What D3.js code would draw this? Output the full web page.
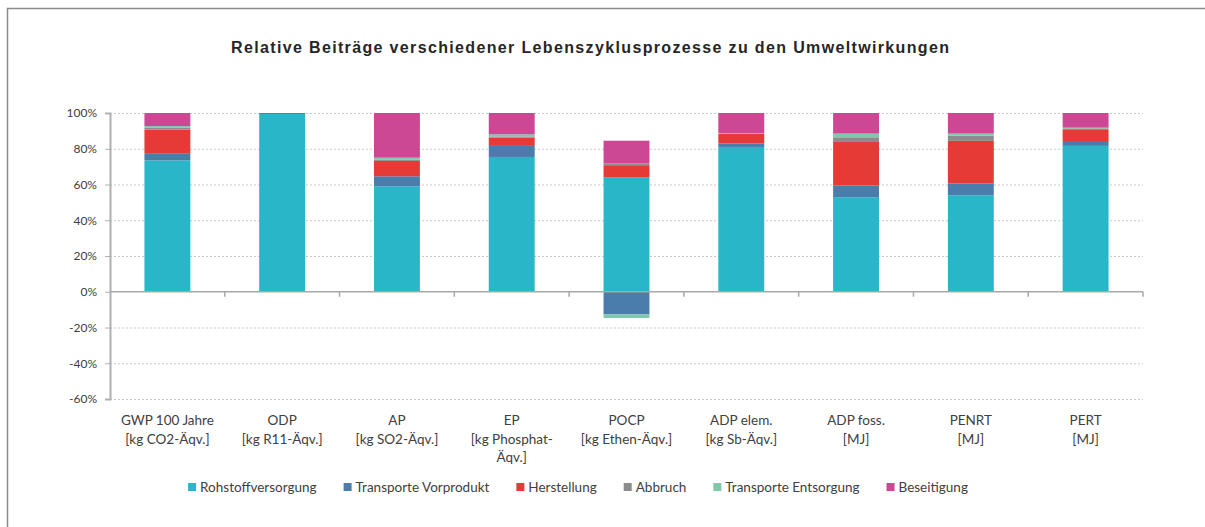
<!DOCTYPE html>
<html>
<head>
<meta charset="utf-8">
<script src="https://cdn.jsdelivr.net/npm/d3@7"></script>
<style>
  html, body { margin: 0; padding: 0; background: #fff; }
  svg { display: block; }
</style>
</head>
<body>
<svg id="chart" width="1205" height="527"></svg>
<script>
// ---- data ----
const categories = ["GWP", "ODP", "AP", "EP", "POCP", "ADP elem", "ADP foss", "PENRT", "PERT"];
const categoryLabels = [
  ["GWP 100 Jahre", "[kg CO2-Äqv.]"],
  ["ODP", "[kg R11-Äqv.]"],
  ["AP", "[kg SO2-Äqv.]"],
  ["EP", "[kg Phosphat-", "Äqv.]"],
  ["POCP", "[kg Ethen-Äqv.]"],
  ["ADP elem.", "[kg Sb-Äqv.]"],
  ["ADP foss.", "[MJ]"],
  ["PENRT", "[MJ]"],
  ["PERT", "[MJ]"]
];
const seriesNames = ["Rohstoffversorgung", "Transporte Vorprodukt", "Herstellung", "Abbruch", "Transporte Entsorgung", "Beseitigung"];
const rohstoffversorgung   = [73.5, 99.5, 59.0, 75.4, 64.1, 81.0, 52.9, 54.0, 81.6];
const transporteVorprodukt = [3.7, 0, 5.6, 6.2, -12.7, 1.9, 6.5, 6.5, 2.2];
const herstellung          = [13.5, 0.5, 8.6, 4.6, 6.7, 5.4, 24.4, 23.9, 7.1];
const abbruch              = [1.2, 0, 0.6, 0.7, 1.0, 0.3, 2.6, 2.9, 0.5];
const transporteEntsorgung = [0.8, 0, 1.2, 1.2, -2.0, 0.2, 2.1, 1.2, 0.4];
const beseitigung          = [7.3, 0, 25.0, 11.9, 12.7, 11.2, 11.5, 11.5, 8.2];
const yTicks = [-60, -40, -20, 0, 20, 40, 60, 80, 100];
const title = "Relative Beiträge verschiedener Lebenszyklusprozesse zu den Umweltwirkungen";

// ---- styles ----
const colors = ["#29b6c8", "#4a7dab", "#e53a36", "#8c8c8c", "#7ec8ab", "#cc4894"];
const fontFamily = "Lato, 'Open Sans', 'DejaVu Sans', sans-serif";
const textColor = "#404040";

const svg = d3.select("#chart");

// frame
svg.append("path")
  .attr("d", "M7.5,540 L7.5,8.5 L1220,8.5")
  .attr("fill", "none").attr("stroke", "#8a8a8a").attr("stroke-width", 1.5);

// title
svg.append("text")
  .attr("x", 590).attr("y", 53)
  .attr("text-anchor", "middle")
  .attr("font-family", "'Liberation Sans', Arial, sans-serif")
  .attr("font-weight", "bold")
  .attr("font-size", 16)
  .attr("fill", "#262626")
  .attr("textLength", 718)
  .attr("lengthAdjust", "spacing")
  .text(title);

const margin = { left: 110, right: 1143, top: 113, bottom: 399 };
const x = d3.scaleBand().domain(categories).range([margin.left, margin.right]).paddingInner(0).paddingOuter(0);
const y = d3.scaleLinear().domain([-60, 100]).range([margin.bottom, margin.top]);

// grid lines
svg.append("g").selectAll("line").data(yTicks.filter(d => d !== 0)).join("line")
  .attr("x1", margin.left).attr("x2", margin.right)
  .attr("y1", d => y(d) + 0.5).attr("y2", d => y(d) + 0.5)
  .attr("stroke", "#c8c8c8").attr("stroke-width", 1)
  .attr("stroke-dasharray", "2,2");

// stacked data
const seriesValues = [rohstoffversorgung, transporteVorprodukt, herstellung, abbruch, transporteEntsorgung, beseitigung];
const rows = categories.map((c, i) => {
  const o = { cat: c };
  seriesNames.forEach((s, j) => o[s] = seriesValues[j][i]);
  return o;
});
const stacked = d3.stack().keys(seriesNames).offset(d3.stackOffsetDiverging)(rows);
const barW = x.bandwidth() * 0.4;

svg.append("g").selectAll("g").data(stacked).join("g")
  .attr("fill", (d, i) => colors[i])
  .selectAll("rect").data(d => d).join("rect")
  .attr("x", d => x(d.data.cat) + (x.bandwidth() - barW) / 2)
  .attr("width", barW)
  .attr("y", d => y(Math.max(d[0], d[1])))
  .attr("height", d => Math.abs(y(d[0]) - y(d[1])));

// y axis
const yAxis = d3.axisLeft(y).tickValues(yTicks).tickFormat(d => d + "%").tickSize(5).tickPadding(8);
const gy = svg.append("g").attr("transform", `translate(${margin.left},0)`).call(yAxis);
gy.select(".domain").attr("stroke", "#b0b0b0").attr("stroke-width", 2);
gy.selectAll(".tick line").attr("stroke", "#b0b0b0");
gy.selectAll(".tick text").attr("font-family", fontFamily).attr("font-size", 12).attr("fill", textColor);

// x axis at zero
const xAxisG = svg.append("g").attr("transform", `translate(0,${y(0)})`);
xAxisG.append("line")
  .attr("x1", margin.left).attr("x2", margin.right)
  .attr("stroke", "#a8a8a8").attr("stroke-width", 1.5);
const boundaries = categories.map(c => x(c)).concat([x(categories[categories.length - 1]) + x.bandwidth()]);
xAxisG.selectAll("line.tk").data(boundaries.slice(1)).join("line")
  .attr("class", "tk")
  .attr("x1", d => d).attr("x2", d => d)
  .attr("y1", 0).attr("y2", 5)
  .attr("stroke", "#a8a8a8").attr("stroke-width", 1.5);

// category labels
const labG = svg.append("g");
categories.forEach((c, i) => {
  const t = labG.append("text")
    .attr("x", x(c) + x.bandwidth() / 2)
    .attr("y", 425)
    .attr("text-anchor", "middle")
    .attr("font-family", fontFamily).attr("font-size", 13.5).attr("fill", textColor);
  categoryLabels[i].forEach((line, k) => {
    t.append("tspan").attr("x", x(c) + x.bandwidth() / 2).attr("dy", k === 0 ? 0 : 18.5).text(line);
  });
});

// legend
const legend = svg.append("g");
const items = legend.selectAll("g").data(seriesNames).join("g");
items.append("rect").attr("width", 8).attr("height", 8).attr("y", -4).attr("fill", (d, i) => colors[i]);
items.append("text").attr("x", 12).attr("y", 4.5)
  .attr("font-family", fontFamily).attr("font-size", 13.5).attr("fill", textColor)
  .text(d => d);
let cursor = 0;
const gap = 27;
items.each(function () {
  const g = d3.select(this);
  g.attr("transform", `translate(${cursor},0)`);
  cursor += 12 + g.select("text").node().getComputedTextLength() + gap;
});
const totalW = cursor - gap;
legend.attr("transform", `translate(${578 - totalW / 2},487)`);
</script>
</body>
</html>
